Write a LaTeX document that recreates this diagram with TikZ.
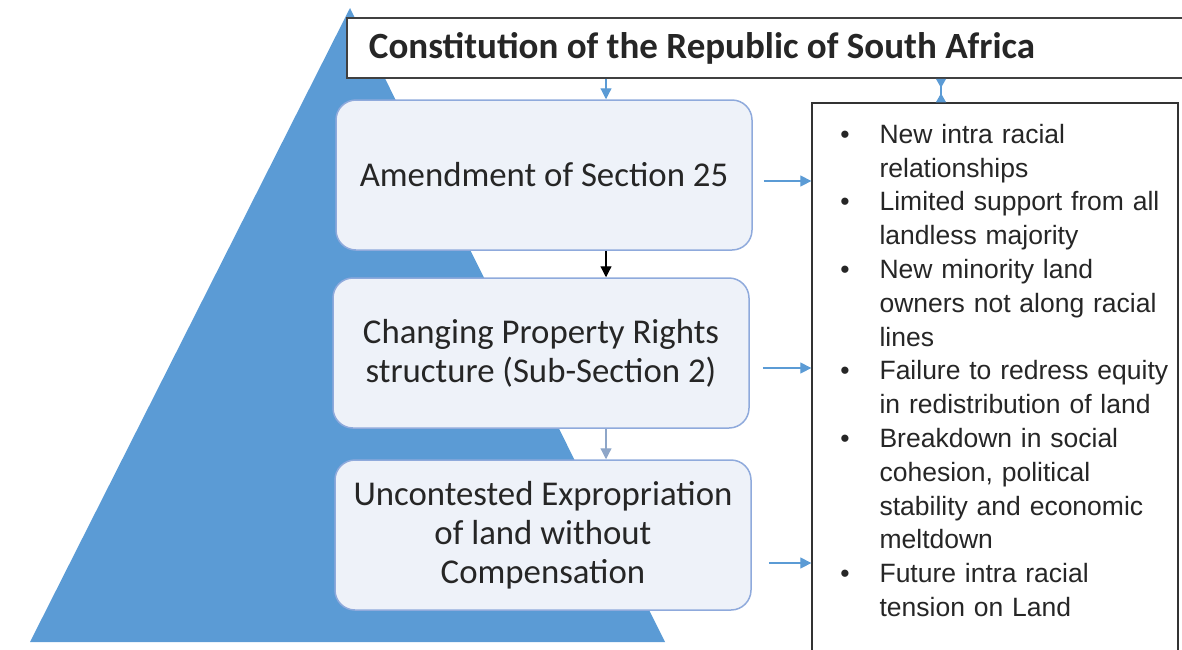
\documentclass[tikz,border=0pt]{standalone}
\usepackage{fontspec}
\setmainfont{Carlito}
\newfontfamily\listfont{Liberation Sans}
\usepackage{enumitem}
\usetikzlibrary{arrows.meta}

\definecolor{pyramid}{HTML}{5B9BD5}
\definecolor{boxfill}{HTML}{EEF2F9}
\definecolor{boxline}{HTML}{8FAADC}
\definecolor{flowgray}{HTML}{8EA6C8}

\begin{document}
\begin{tikzpicture}
[x=1pt,y=-1pt,%
  every node/.style={inner sep=0pt,text=black!85},%
  stagebox/.style={draw=boxline,line width=1.5pt,fill=boxfill,rounded corners=20pt,
    minimum width=416pt,minimum height=150pt,align=center,
    font=\fontsize{34.8}{39}\selectfont},%
  flow/.style={pyramid,line width=1.2pt,-{Triangle[length=11pt,width=11pt]}}]
\useasboundingbox (0,0) rectangle (1182,649);
% pyramid in the background
\fill[pyramid] (350,8) -- (665,642) -- (30,642) -- cycle;
\node[draw=black!75,line width=1.5pt,fill=white,minimum width=840pt,minimum height=60pt,
  font=\bfseries\fontsize{37}{40}\selectfont] (title) at (767,48) {\hspace*{-130pt}\raisebox{-4pt}{Constitution of the Republic of South Africa}};
\node[stagebox] (b1) at (544,175) {Amendment of Section 25};
\node[stagebox] (b2) at (541,353) {Changing Property Rights\\structure (Sub-Section 2)};
\node[stagebox] (b3) at (543,535) {Uncontested Expropriation\\of land without\\Compensation};
% effects
\node[draw=black!80,line width=1.3pt,fill=white,minimum width=366pt,minimum height=560pt] (rbox) at (995,383) {};
\node[anchor=north west,text width=340pt,font=\listfont\fontsize{26.5}{33.8}\selectfont] (items)
  at ([xshift=28pt,yshift=-7pt]rbox.north west) {%
\begin{itemize}[label=\textbullet,leftmargin=40pt,labelwidth=10pt,labelsep=30pt,
  itemsep=0pt,topsep=0pt,parsep=0pt,partopsep=0pt]
\item New intra racial\\relationships
\item Limited support from all\\landless majority
\item New minority land\\owners not along racial\\lines
\item Failure to redress equity\\in redistribution of land
\item Breakdown in social\\cohesion, political\\stability and economic\\meltdown
\item Future intra racial\\tension on Land
\end{itemize}};
% connectors
\coordinate (down) at (606,0);
\coordinate (hg) at (941,0);
\draw[flow] (title.south -| down) -- (b1.north -| down);
\draw[flow,black] (b1.south -| down) -- (b2.north -| down);
\draw[flow,flowgray] (b2.south -| down) -- (b3.north -| down);
\draw[pyramid,line width=1.2pt,{Triangle[reversed,length=9pt,width=10pt]}-{Triangle[reversed,length=9pt,width=10pt]}]
  (title.south -| hg) -- (rbox.north -| hg);
\draw[flow,shorten <=11pt] ([yshift=-6pt]b1.east) -- ([yshift=-6pt]b1.east -| rbox.west);
\draw[flow,shorten <=13pt] ([yshift=-15pt]b2.east) -- ([yshift=-15pt]b2.east -| rbox.west);
\draw[flow,shorten <=17pt] ([yshift=-28pt]b3.east) -- ([yshift=-28pt]b3.east -| rbox.west);
\end{tikzpicture}
\end{document}
